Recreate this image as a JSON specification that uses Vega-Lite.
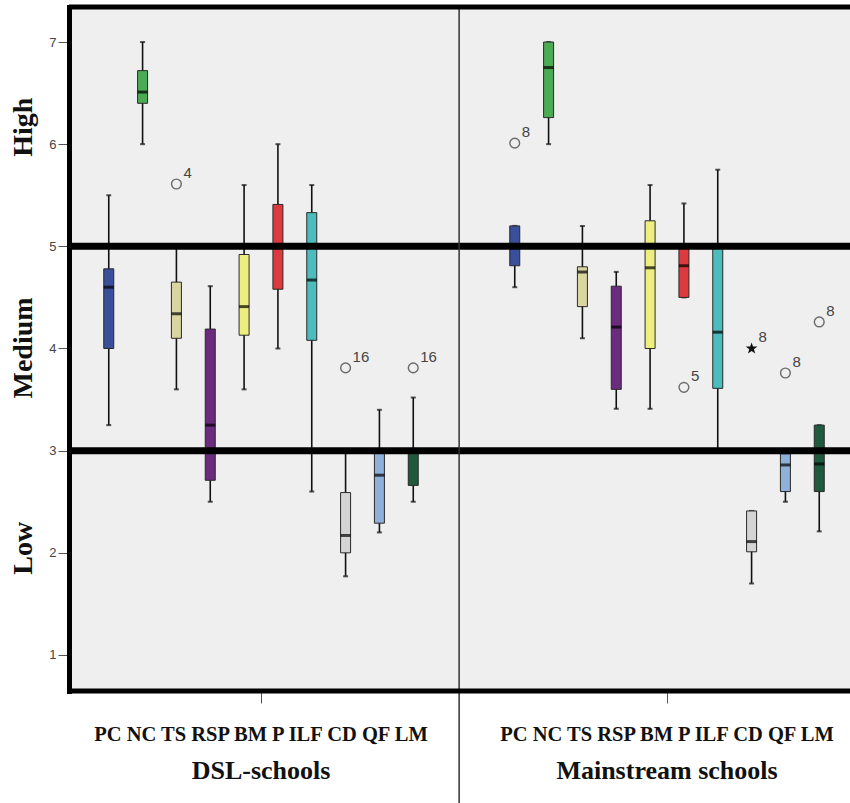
{
  "$schema": "https://vega.github.io/schema/vega-lite/v6.json",
  "autosize": "none",
  "width": 781,
  "height": 684,
  "padding": {"left": 69, "top": 7, "right": 0, "bottom": 112},
  "background": "white",
  "config": {
    "view": {"stroke": null, "fill": "#efefef"},
    "axis": {"grid": false, "title": null}
  },
  "datasets": {
    "boxes": [
      {"group": "DSL-schools", "item": "PC", "lo": 3.25, "q1": 4.0, "med": 4.6, "q3": 4.78, "hi": 5.5},
      {"group": "DSL-schools", "item": "NC", "lo": 6.0, "q1": 6.4, "med": 6.51, "q3": 6.72, "hi": 7.0},
      {"group": "DSL-schools", "item": "TS", "lo": 3.6, "q1": 4.1, "med": 4.34, "q3": 4.65, "hi": 5.0},
      {"group": "DSL-schools", "item": "RSP", "lo": 2.5, "q1": 2.71, "med": 3.25, "q3": 4.19, "hi": 4.61},
      {"group": "DSL-schools", "item": "BM", "lo": 3.6, "q1": 4.13, "med": 4.41, "q3": 4.92, "hi": 5.6},
      {"group": "DSL-schools", "item": "P", "lo": 4.0, "q1": 4.58, "med": 5.0, "q3": 5.41, "hi": 6.0},
      {"group": "DSL-schools", "item": "ILF", "lo": 2.6, "q1": 4.08, "med": 4.67, "q3": 5.33, "hi": 5.6},
      {"group": "DSL-schools", "item": "CD", "lo": 1.77, "q1": 2.0, "med": 2.17, "q3": 2.59, "hi": 3.0},
      {"group": "DSL-schools", "item": "QF", "lo": 2.2, "q1": 2.29, "med": 2.76, "q3": 3.0, "hi": 3.4},
      {"group": "DSL-schools", "item": "LM", "lo": 2.5, "q1": 2.66, "med": 3.0, "q3": 3.0, "hi": 3.52},
      {"group": "Mainstream schools", "item": "PC", "lo": 4.6, "q1": 4.81, "med": 5.0, "q3": 5.2, "hi": 5.2},
      {"group": "Mainstream schools", "item": "NC", "lo": 6.0, "q1": 6.26, "med": 6.75, "q3": 7.0, "hi": 7.0},
      {"group": "Mainstream schools", "item": "TS", "lo": 4.1, "q1": 4.41, "med": 4.75, "q3": 4.8, "hi": 5.2},
      {"group": "Mainstream schools", "item": "RSP", "lo": 3.41, "q1": 3.6, "med": 4.21, "q3": 4.61, "hi": 4.75},
      {"group": "Mainstream schools", "item": "BM", "lo": 3.41, "q1": 4.0, "med": 4.79, "q3": 5.25, "hi": 5.6},
      {"group": "Mainstream schools", "item": "P", "lo": 4.5, "q1": 4.5, "med": 4.81, "q3": 5.0, "hi": 5.42},
      {"group": "Mainstream schools", "item": "ILF", "lo": 3.0, "q1": 3.61, "med": 4.16, "q3": 5.0, "hi": 5.75},
      {"group": "Mainstream schools", "item": "CD", "lo": 1.7, "q1": 2.01, "med": 2.11, "q3": 2.41, "hi": 2.41},
      {"group": "Mainstream schools", "item": "QF", "lo": 2.5, "q1": 2.6, "med": 2.86, "q3": 2.97, "hi": 2.97},
      {"group": "Mainstream schools", "item": "LM", "lo": 2.21, "q1": 2.6, "med": 2.87, "q3": 3.25, "hi": 3.25}
    ],
    "outliers": [
      {"group": "DSL-schools", "item": "TS", "value": 5.61, "case": "4", "kind": "outlier"},
      {"group": "DSL-schools", "item": "CD", "value": 3.81, "case": "16", "kind": "outlier"},
      {"group": "DSL-schools", "item": "LM", "value": 3.81, "case": "16", "kind": "outlier"},
      {"group": "Mainstream schools", "item": "PC", "value": 6.01, "case": "8", "kind": "outlier"},
      {"group": "Mainstream schools", "item": "P", "value": 3.62, "case": "5", "kind": "outlier"},
      {"group": "Mainstream schools", "item": "CD", "value": 4.0, "case": "8", "kind": "extreme"},
      {"group": "Mainstream schools", "item": "QF", "value": 3.76, "case": "8", "kind": "outlier"},
      {"group": "Mainstream schools", "item": "LM", "value": 4.26, "case": "8", "kind": "outlier"}
    ],
    "cuts": [{"cut": 3}, {"cut": 5}]
  },
  "resolve": {"axis": {"x": "independent", "y": "independent"}},
  "layer": [
    {
      "data": {"name": "boxes"},
      "mark": {"type": "rule", "color": "#111", "strokeWidth": 1.6},
      "encoding": {
        "x": {
          "field": "group", "type": "nominal",
          "scale": {"domain": ["DSL-schools", "Mainstream schools"], "range": [-11, 801], "paddingInner": 0, "paddingOuter": 0},
          "axis": {"orient": "bottom", "domain": false, "ticks": false, "labelAngle": 0, "labelFont": "Liberation Serif", "labelFontWeight": "bold", "labelFontSize": 26, "labelColor": "#111", "labelBaseline": "alphabetic", "labelPadding": 87, "labelLimit": 0}
        },
        "xOffset": {
          "field": "item", "type": "nominal",
          "scale": {"domain": ["PC", "NC", "TS", "RSP", "BM", "P", "ILF", "CD", "QF", "LM"], "paddingInner": 0, "paddingOuter": 1.394}
        },
        "y": {
          "field": "lo", "type": "quantitative",
          "scale": {"domain": [0.6476, 7.3426], "nice": false, "zero": false},
          "axis": {"orient": "left", "values": [1, 2, 3, 4, 5, 6, 7], "domain": true, "domainColor": "#000", "domainWidth": 5, "domainCap": "square", "ticks": true, "tickSize": 11, "tickColor": "#555", "labelFont": "Liberation Sans", "labelFontSize": 13, "labelColor": "#444", "labelPadding": 2}
        },
        "y2": {"field": "hi"}
      }
    },
    {
      "data": {"name": "boxes"},
      "mark": {"type": "tick", "color": "#111", "size": 5, "thickness": 2},
      "encoding": {
        "x": {"field": "group", "type": "nominal", "axis": null},
        "xOffset": {"field": "item", "type": "nominal"},
        "y": {"field": "lo", "type": "quantitative", "axis": null}
      }
    },
    {
      "data": {"name": "boxes"},
      "mark": {"type": "tick", "color": "#111", "size": 5, "thickness": 2},
      "encoding": {
        "x": {"field": "group", "type": "nominal", "axis": null},
        "xOffset": {"field": "item", "type": "nominal"},
        "y": {"field": "hi", "type": "quantitative", "axis": null}
      }
    },
    {
      "data": {"name": "boxes"},
      "mark": {"type": "bar", "size": 10, "stroke": "#2a2a2a", "strokeWidth": 1},
      "encoding": {
        "x": {"field": "group", "type": "nominal", "axis": null},
        "xOffset": {"field": "item", "type": "nominal"},
        "y": {
          "field": "q1", "type": "quantitative",
          "axis": {"orient": "left", "values": [2.05, 4.01, 6.17], "labelExpr": "datum.value > 5 ? 'High' : datum.value > 3 ? 'Medium' : 'Low'", "domain": false, "ticks": false, "labelAngle": -90, "labelAlign": "center", "labelBaseline": "alphabetic", "labelPadding": 38, "labelFont": "Liberation Serif", "labelFontWeight": "bold", "labelFontSize": 28, "labelColor": "#111", "labelLimit": 0}
        },
        "y2": {"field": "q3"},
        "fill": {
          "field": "item", "type": "nominal", "legend": null,
          "scale": {
            "domain": ["PC", "NC", "TS", "RSP", "BM", "P", "ILF", "CD", "QF", "LM"],
            "range": ["#3a4f9b", "#4aab52", "#d9d6a0", "#6b2c7e", "#eeee80", "#dc3a3f", "#4cbcbc", "#d4d4d4", "#8fb0d8", "#1f5a3c"]
          }
        }
      }
    },
    {
      "data": {"name": "boxes"},
      "mark": {"type": "tick", "color": "#000", "size": 10, "thickness": 3},
      "encoding": {
        "x": {
          "field": "group", "type": "nominal",
          "axis": {"orient": "bottom", "domain": false, "ticks": true, "tickSize": 12, "tickColor": "#555", "labelAngle": 0, "labelExpr": "'PC NC TS RSP BM P ILF CD QF LM'", "labelFont": "Liberation Serif", "labelFontWeight": "bold", "labelFontSize": 20.5, "labelColor": "#111", "labelBaseline": "alphabetic", "labelPadding": 37, "labelLimit": 0}
        },
        "xOffset": {"field": "item", "type": "nominal"},
        "y": {"field": "med", "type": "quantitative", "axis": null}
      }
    },
    {
      "data": {"name": "outliers"},
      "transform": [{"filter": "datum.kind === 'outlier'"}],
      "mark": {"type": "point", "shape": "circle", "filled": false, "stroke": "#333", "strokeWidth": 1.4, "size": 95},
      "encoding": {
        "x": {"field": "group", "type": "nominal", "axis": null},
        "xOffset": {"field": "item", "type": "nominal"},
        "y": {"field": "value", "type": "quantitative", "axis": null}
      }
    },
    {
      "data": {"name": "outliers"},
      "transform": [{"filter": "datum.kind === 'extreme'"}],
      "mark": {"type": "point", "shape": "M0,-1L0.235,-0.324L0.951,-0.309L0.38,0.124L0.588,0.809L0,0.4L-0.588,0.809L-0.38,0.124L-0.951,-0.309L-0.235,-0.324Z", "filled": true, "color": "#111", "size": 150, "opacity": 1},
      "encoding": {
        "x": {"field": "group", "type": "nominal", "axis": null},
        "xOffset": {"field": "item", "type": "nominal"},
        "y": {"field": "value", "type": "quantitative", "axis": null}
      }
    },
    {
      "data": {"name": "outliers"},
      "mark": {"type": "text", "align": "left", "baseline": "middle", "dx": 7, "dy": -11, "font": "Liberation Sans", "fontSize": 15, "color": "#444"},
      "encoding": {
        "x": {"field": "group", "type": "nominal", "axis": null},
        "xOffset": {"field": "item", "type": "nominal"},
        "y": {"field": "value", "type": "quantitative", "axis": null},
        "text": {"field": "case"}
      }
    },
    {
      "data": {"name": "cuts"},
      "mark": {"type": "rule", "color": "#000", "strokeWidth": 7},
      "encoding": {
        "y": {"field": "cut", "type": "quantitative", "axis": null}
      }
    },
    {
      "data": {"values": [{}]},
      "mark": {"type": "rule", "color": "#333", "strokeWidth": 1.5},
      "encoding": {
        "x": {"datum": "DSL-schools", "type": "nominal", "bandPosition": 0.988, "axis": null},
        "y": {"datum": 7.3426, "type": "quantitative", "axis": null},
        "y2": {"datum": -0.45}
      }
    },
    {
      "data": {"values": [{"edge": 7.3426}, {"edge": 0.6476}]},
      "mark": {"type": "rule", "color": "#000", "strokeWidth": 5},
      "encoding": {
        "y": {"field": "edge", "type": "quantitative", "axis": null}
      }
    }
  ]
}
